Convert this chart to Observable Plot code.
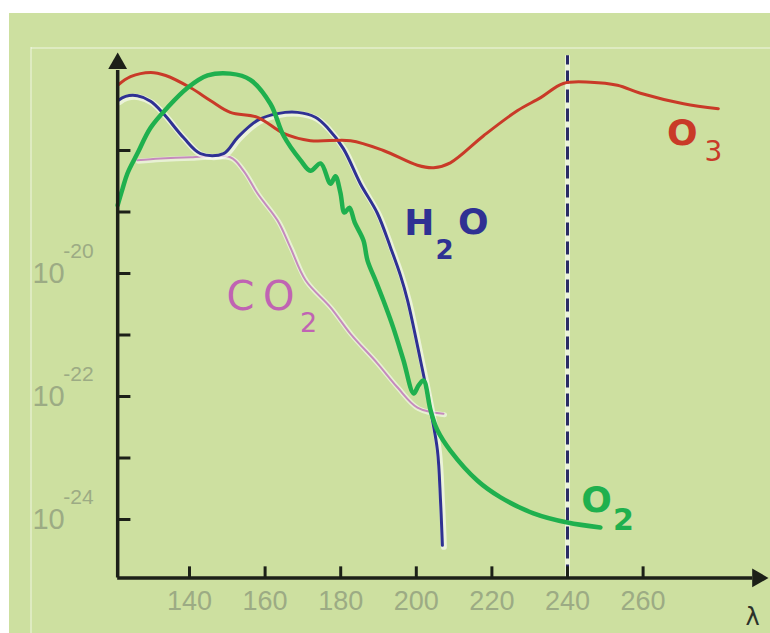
<!DOCTYPE html>
<html><head><meta charset="utf-8">
<script src="https://cdn.jsdelivr.net/npm/d3@7"></script>
<script src="https://cdn.jsdelivr.net/npm/@observablehq/plot@0.6"></script>
<style>
body{margin:0;background:#fff;}
#chart{width:770px;height:633px;overflow:hidden;}
</style></head><body><div id="chart"></div>
<script>
// Wavelength λ (nm) and log10 of absorption cross-section
const o3Lambda = [121.0,124.4,129.7,133.7,140.3,145.6,150.8,158.0,164.9,172.0,182.6,191.3,200.3,204.6,209.0,217.8,226.8,232.9,238.9,246.1,253.2,259.3,270.7,279.9];
const o3Log    = [-16.94,-16.80,-16.73,-16.78,-16.98,-17.19,-17.38,-17.46,-17.72,-17.84,-17.84,-18.00,-18.24,-18.28,-18.20,-17.76,-17.35,-17.14,-16.91,-16.89,-16.94,-17.07,-17.24,-17.32];

const h2oLambda = [121.0,123.1,126.2,129.7,133.1,138.4,142.9,149.0,152.7,158.0,163.3,168.6,173.3,176.5,180.7,185.2,189.7,193.2,195.8,197.7,201.1,203.8,205.6,206.4,206.9];
const h2oLog    = [-17.19,-17.12,-17.11,-17.20,-17.40,-17.79,-18.05,-18.05,-17.79,-17.51,-17.40,-17.38,-17.46,-17.63,-17.97,-18.54,-19.02,-19.58,-20.03,-20.44,-21.41,-22.23,-22.88,-23.69,-24.42];

const co2Lambda = [126.2,132.3,140.3,150.8,154.3,158.0,163.3,166.7,170.7,177.3,182.6,189.7,195.0,200.3,207.2];
const co2Log    = [-18.16,-18.13,-18.11,-18.11,-18.33,-18.70,-19.14,-19.58,-20.11,-20.55,-20.98,-21.46,-21.85,-22.18,-22.28];

const o2Lambda = [121.0,122.3,123.6,126.2,129.7,134.2,139.5,144.8,150.8,156.1,161.4,164.9,169.4,172.0,174.7,177.3,178.6,179.9,181.0,182.3,183.7,186.0,187.1,189.2,191.3,193.9,196.6,199.3,200.6,201.9,203.8,205.6,209.0,216.2,222.3,231.0,240.0,248.7];
const o2Log    = [-18.89,-18.62,-18.37,-18.05,-17.63,-17.30,-16.98,-16.78,-16.75,-16.85,-17.24,-17.76,-18.16,-18.33,-18.21,-18.54,-18.42,-18.68,-19.01,-18.93,-19.17,-19.46,-19.79,-20.11,-20.44,-20.88,-21.41,-21.95,-21.82,-21.74,-22.23,-22.55,-22.88,-23.37,-23.64,-23.90,-24.05,-24.13];

const xTicks = [140,160,180,200,220,240,260];
const yTickExponents = [-18,-19,-20,-21,-22,-23,-24];
const yLabelExponents = [-20,-22,-24];
const markerLambda = 240;
const axisLambda = 121;      // where the vertical axis stands
const axisLog = -24.95;      // where the horizontal axis stands
const yAxisTop = -16.7;
const yArrowLog = -16.585;
const xAxisEnd = 289;
const xArrowLambda = 290.3;
const markerTop = -16.46;

// labels: [text, λ, log10σ, fontSize, fontWeight]
const labelO3 = [["O",270.4,-17.72,36,"bold"],["3",278.6,-18.02,28,"normal"]];
const labelH2O = [["H",200.8,-19.19,36,"bold"],["2",207.5,-19.63,26,"bold"],["O",215.1,-19.17,36,"bold"]];
const labelCO2 = [["C",153.5,-20.39,40,"normal"],["O",163.6,-20.39,40,"normal"],["2",171.5,-20.81,27,"normal"]];
const labelO2 = [["O",247.7,-23.69,36,"bold"],["2",254.8,-24.02,30,"bold"]];

const toRows = (xs, ys) => xs.map((x, i) => ({x, y: ys[i]}));
const o3 = toRows(o3Lambda, o3Log);
const h2o = toRows(h2oLambda, h2oLog);
const co2 = toRows(co2Lambda, co2Log);
const o2 = toRows(o2Lambda, o2Log);

const cRed = "#c93a28", cBlue = "#2f3193", cGreen = "#1fb04e", cPink = "#c58abd", cNavy = "#2a2c66", cAxis = "#1c2018";
const tickText = "#9cab84";
const fam = "DejaVu Sans, sans-serif";

const mainLabel = (rows, fill) => rows.map(r => Plot.text([r], {
  x: d => d[1], y: d => d[2], text: d => d[0], fill, fontSize: r[3], fontWeight: r[4],
  fontFamily: fam, textAnchor: "middle", lineAnchor: "middle"
}));

const chart = Plot.plot({
  width: 770, height: 633, margin: 0,
  x: {domain: [140, 240], range: [189, 567], axis: null},
  y: {domain: [-20, -24], range: [273, 519], axis: null},
  style: {
    background: "linear-gradient(#fff,#fff) 0 0/100% 13px no-repeat, linear-gradient(#fff,#fff) 0 0/9px 100% no-repeat, linear-gradient(rgba(255,255,255,.35),rgba(255,255,255,.35)) 31px 47px/100% 2px no-repeat, linear-gradient(rgba(255,255,255,.35),rgba(255,255,255,.35)) 30px 47px/2px 100% no-repeat, #cde0a0",
    overflow: "visible"
  },
  marks: [
    // dashed marker line at 240 nm
    Plot.ruleX([markerLambda], {y1: axisLog, y2: markerTop, stroke: "#fff", strokeOpacity: 0.6, strokeWidth: 5}),
    Plot.ruleX([markerLambda], {y1: axisLog, y2: markerTop, stroke: cNavy, strokeWidth: 3, strokeDasharray: "13,6"}),
    // curves
    Plot.line(co2, {x: "x", y: "y", stroke: "#fff", strokeOpacity: 0.55, strokeWidth: 5, curve: "catmull-rom", dx: 1, dy: 1}),
    Plot.line(co2, {x: "x", y: "y", stroke: cPink, strokeWidth: 2, curve: "catmull-rom"}),
    Plot.line(h2o, {x: "x", y: "y", stroke: "#fff", strokeOpacity: 0.6, strokeWidth: 6, curve: "catmull-rom", dx: 1.5, dy: 1.5}),
    Plot.line(h2o, {x: "x", y: "y", stroke: cBlue, strokeWidth: 3, curve: "catmull-rom"}),
    Plot.line(o3, {x: "x", y: "y", stroke: cRed, strokeWidth: 3, curve: "catmull-rom"}),
    Plot.line(o2, {x: "x", y: "y", stroke: cGreen, strokeWidth: 4.5, curve: "catmull-rom"}),
    // axes
    Plot.ruleX([axisLambda], {y1: axisLog, y2: yAxisTop, stroke: cAxis, strokeWidth: 3.5}),
    Plot.ruleY([axisLog], {x1: axisLambda, x2: xAxisEnd, stroke: cAxis, strokeWidth: 3.5}),
    Plot.dot([0], {x: () => axisLambda, y: () => yArrowLog, symbol: "triangle", r: 7, fill: cAxis, stroke: "none"}),
    Plot.dot([0], {x: () => xArrowLambda, y: () => axisLog, symbol: "triangle", r: 7, rotate: 90, fill: cAxis, stroke: "none"}),
    Plot.ruleY(yTickExponents, {x1: axisLambda, x2: 124.5, stroke: cAxis, strokeWidth: 3}),
    Plot.ruleX(xTicks, {y1: axisLog, y2: -24.77, stroke: cAxis, strokeWidth: 3}),
    // tick labels
    Plot.text(xTicks, {x: d => d, y: () => axisLog, dy: 23, text: d => String(d), fill: tickText, fontSize: 27, fontFamily: "Liberation Sans, sans-serif", textAnchor: "middle", lineAnchor: "middle"}),
    Plot.text(yLabelExponents, {y: d => d, frameAnchor: "left", dx: 48, text: () => "10", fill: tickText, fontSize: 29, fontFamily: "Liberation Sans, sans-serif", textAnchor: "middle", lineAnchor: "middle"}),
    Plot.text(yLabelExponents, {y: d => d, frameAnchor: "left", dx: 78, dy: -22, text: d => String(d), fill: tickText, fontSize: 21, fontFamily: "Liberation Sans, sans-serif", textAnchor: "middle", lineAnchor: "middle"}),
    Plot.text(["λ"], {frameAnchor: "bottom-right", dx: -18, dy: -16, text: d => d, fill: "#2c322a", fontSize: 24, fontFamily: fam, textAnchor: "middle", lineAnchor: "middle"}),
    // series labels
    ...mainLabel(labelO3, cRed),
    ...mainLabel(labelH2O, cBlue),
    ...mainLabel(labelCO2, "#c063b3"),
    ...mainLabel(labelO2, cGreen)
  ]
});
document.getElementById("chart").appendChild(chart);
</script>
</body></html>
